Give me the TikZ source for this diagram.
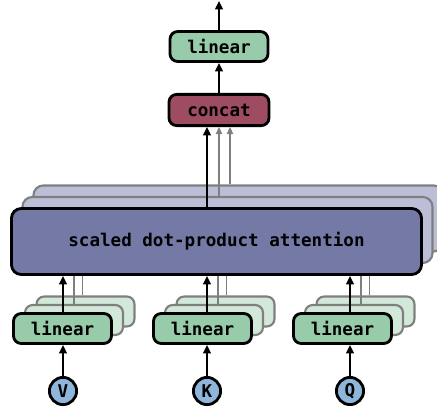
\documentclass[tikz,border=0pt]{standalone}
\usepackage{fontspec}
\setmonofont{DejaVu Sans Mono}
\usetikzlibrary{arrows.meta,calc}
\definecolor{lingreen}{HTML}{97CBA9}
\definecolor{lingreenlt}{HTML}{D2E8D8}
\definecolor{attblue}{HTML}{7479A6}
\definecolor{attbluelt}{HTML}{BCBED7}
\definecolor{catred}{HTML}{9D4C62}
\definecolor{inblue}{HTML}{8EB5DA}
\definecolor{ghostgray}{HTML}{7F7F7F}
\tikzset{
    block/.style={draw, line width=2pt, rounded corners=5.5pt, inner sep=0pt,
            font=\ttfamily\bfseries\fontsize{12.5}{12.5}\selectfont},
    linbox/.style={block, fill=lingreen, minimum width=2.45cm, minimum height=0.75cm},
    linghost/.style={linbox, draw=ghostgray, fill=lingreenlt, line width=1.5pt},
    attbox/.style={block, fill=attblue, minimum width=10.25cm, minimum height=1.65cm, rounded corners=7pt},
    attghost/.style={attbox, draw=ghostgray, fill=attbluelt, line width=1.5pt},
    catbox/.style={block, fill=catred, minimum width=2.5cm, minimum height=0.78cm},
    inbox/.style={block, circle, fill=inblue, minimum size=0.68cm},
    flow/.style={-{Triangle[length=6pt, width=5.5pt]}, line width=1.4pt},
    ghostflow/.style={-{Triangle[length=5pt, width=4.5pt]}, line width=0.8pt, draw=ghostgray, color=ghostgray},
}
\begin{document}
\begin{tikzpicture}[x=0.025cm, y=-0.025cm]
        \useasboundingbox (0, 0) rectangle (437, 410);
        %draw ghost copies of the attention block
        \node[attghost] (sdpaB) at (238.5, 218.5) {};
        \node[attghost] (sdpaA) at (227.5, 230) {};
        %draw ghost copies of the linear blocks
        \node[linghost] (linvB) at (85.5, 311.5) {};
        \node[linghost] (linvA) at (74, 320) {};
        \node[linghost] (linkB) at (225.5, 311.5) {};
        \node[linghost] (linkA) at (214, 320) {};
        \node[linghost] (linqB) at (365.5, 311.5) {};
        \node[linghost] (linqA) at (354, 320) {};
        %draw inputs V, K and Q
        \node[inbox] (v) at (63, 391) {V};
        \node[inbox] (k) at (207, 391) {K};
        \node[inbox] (q) at (350, 391) {Q};
        %draw gray lines from the ghost linear blocks
        \draw[ghostflow, -] ($(v |- linvA.north)+(11, 0)$) -- ($(v |- sdpaA.south)+(11, 0)$);
        \draw[ghostflow, -] ($(v |- linvB.north)+(19.5, 0)$) -- ($(v |- sdpaA.south)+(19.5, 0)$);
        \draw[ghostflow, -] ($(k |- linkA.north)+(11, 0)$) -- ($(k |- sdpaA.south)+(11, 0)$);
        \draw[ghostflow, -] ($(k |- linkB.north)+(19.5, 0)$) -- ($(k |- sdpaA.south)+(19.5, 0)$);
        \draw[ghostflow, -] ($(q |- linqA.north)+(11, 0)$) -- ($(q |- sdpaA.south)+(11, 0)$);
        \draw[ghostflow, -] ($(q |- linqB.north)+(19.5, 0)$) -- ($(q |- sdpaA.south)+(19.5, 0)$);
        %draw linear blocks and attention block
        \node[linbox] (linv) at (62.5, 328.5) {linear};
        \node[linbox] (link) at (202.5, 328.5) {linear};
        \node[linbox] (linq) at (342.5, 328.5) {linear};
        \node[attbox] (sdpa) at (216.5, 241.5) {scaled dot-product attention};
        %draw concat and output linear block
        \node[catbox] (concat) at (219, 110) {concat};
        \node[linbox] (linout) at (219, 46.5) {linear};
        \coordinate (out) at (219, 1);
        %draw arrows from inputs to linear blocks
        \draw[flow] (v.north) -- (v |- linv.south);
        \draw[flow] (k.north) -- (k |- link.south);
        \draw[flow] (q.north) -- (q |- linq.south);
        %draw arrows from linear blocks to attention block
        \draw[flow] (v |- linv.north) -- (v |- sdpa.south);
        \draw[flow] (k |- link.north) -- (k |- sdpa.south);
        \draw[flow] (q |- linq.north) -- (q |- sdpa.south);
        %draw arrows from attention blocks to concat
        \draw[ghostflow] ($(k |- sdpaA.north)+(12, 0)$) -- ($(k |- concat.south)+(12, 0)$);
        \draw[ghostflow] ($(k |- sdpaB.north)+(23, 0)$) -- ($(k |- concat.south)+(23, 0)$);
        \draw[flow] (k |- sdpa.north) -- (k |- concat.south);
        %draw arrows to the output
        \draw[flow] (concat.north) -- (linout.south);
        \draw[flow] (linout.north) -- (out);
    \end{tikzpicture}
\end{document}
